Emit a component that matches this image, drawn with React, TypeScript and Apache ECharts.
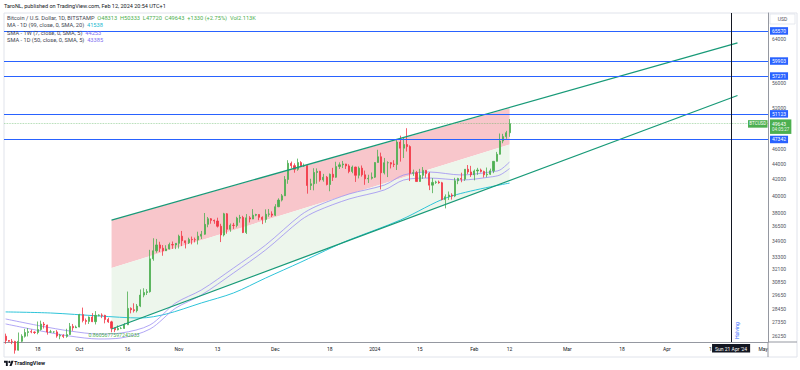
import React, { useEffect, useRef } from "react";
import * as echarts from "echarts";

const FONT = "Roboto, 'Liberation Sans', Arial, sans-serif";

// Category axis: daily from this date
const FIRST_DAY = "2023-09-08";
const TOTAL_DAYS = 238;

// Daily candles [open, high, low, close], starting 2023-09-08, one per day
const ohlc: number[][] = [
  [26240, 26440, 25650, 25900], [25900, 25940, 25800, 25840], [25840, 26020, 25620, 25830], [25830, 25880, 24900, 25160],
  [25160, 26530, 25130, 25840], [25840, 26390, 25770, 26230], [26230, 26820, 26130, 26530], [26530, 26890, 26220, 26600],
  [26600, 26770, 26470, 26570], [26570, 26620, 26410, 26530], [26530, 27420, 26390, 26770], [26770, 27490, 26680, 27210],
  [27210, 27380, 26850, 27130], [27130, 27160, 26360, 26570], [26570, 26740, 26520, 26580], [26580, 26630, 26500, 26580],
  [26580, 26720, 26120, 26250], [26250, 26420, 26000, 26300], [26300, 26390, 26090, 26220], [26220, 26830, 26120, 26370],
  [26370, 27300, 26340, 27020], [27020, 27220, 26670, 26910], [26910, 27090, 26890, 26970],
  // Oct
  [26970, 28060, 26950, 27990], [27990, 28590, 27350, 27500], [27500, 27670, 27170, 27430], [27430, 27840, 27220, 27790],
  [27790, 28120, 27370, 27410], [27410, 28290, 27180, 27930], [27930, 28020, 27850, 27960], [27960, 28100, 27700, 27930],
  [27930, 27980, 27270, 27590], [27590, 27730, 27310, 27390], [27390, 27480, 26550, 26870], [26870, 26930, 26560, 26750],
  [26750, 27100, 26700, 26860], [26860, 26970, 26800, 26860], [26860, 27290, 26830, 27150], [27150, 30000, 27130, 28520],
  [28520, 28610, 28100, 28410], [28410, 28960, 28170, 28330], [28330, 28900, 28180, 28720], [28720, 30190, 28630, 29680],
  [29680, 30300, 29490, 29910], [29910, 30220, 29690, 29990], [29990, 34000, 29900, 33090], [33090, 35200, 32900, 33900],
  [33900, 35130, 33700, 34500], [34500, 34830, 33780, 34160], [34160, 34490, 33400, 33900], [33900, 34470, 33880, 34090],
  [34090, 34740, 34040, 34540], [34540, 34860, 34100, 34500], [34500, 34700, 34070, 34670],
  // Nov
  [34670, 35580, 34130, 35420], [35420, 35980, 34380, 34940], [34940, 34940, 34140, 34730], [34730, 35260, 34600, 35080],
  [35080, 35380, 34560, 35050], [35050, 35270, 34760, 35040], [35040, 35900, 34550, 35420], [35420, 35980, 35120, 35630],
  [35630, 37970, 35570, 36700], [36700, 37520, 36380, 37320], [37320, 37400, 36770, 37140], [37140, 37230, 36760, 37070],
  [37070, 37440, 36350, 36490], [36490, 36760, 34800, 35550], [35550, 37990, 35390, 37880], [37880, 37970, 35680, 36160],
  [36160, 36790, 35890, 36600], [36600, 36860, 36200, 36580], [36580, 37540, 36370, 37390], [37390, 37760, 36890, 37470],
  [37470, 37650, 35750, 35810], [35810, 37850, 35650, 37420], [37420, 37620, 36910, 37290], [37290, 38420, 37280, 37720],
  [37720, 37880, 37600, 37800], [37800, 37830, 37160, 37480], [37480, 37590, 36720, 37250], [37250, 38390, 36880, 37830],
  [37830, 38430, 37550, 37860], [37860, 38160, 37510, 37720],
  // Dec
  [37720, 38990, 37630, 38690], [38690, 39680, 38650, 39470], [39470, 40200, 39310, 39980], [39980, 42420, 39980, 41990],
  [41990, 44490, 41450, 44080], [44080, 44310, 43400, 43770], [43770, 44070, 42850, 43290], [43290, 44700, 43100, 44170],
  [44170, 44360, 43600, 43720], [43720, 44040, 43600, 43790], [43790, 43800, 40240, 41240], [41240, 42080, 40680, 41450],
  [41450, 43430, 40640, 42880], [42880, 43410, 41460, 43020], [43020, 43090, 41710, 41940], [41940, 42700, 41710, 42270],
  [42270, 42430, 41250, 41360], [41360, 42750, 40530, 42650], [42650, 43480, 41800, 42270], [42270, 44280, 42200, 43650],
  [43650, 44200, 43330, 43870], [43870, 44390, 43450, 43990], [43990, 44010, 43330, 43730], [43730, 43950, 42780, 43010],
  [43010, 43780, 42780, 43580], [43580, 43620, 41680, 42520], [42520, 43660, 42120, 43440], [43440, 43790, 42350, 42580],
  [42580, 43120, 41320, 42070], [42070, 42590, 41550, 42140], [42140, 42880, 41980, 42280],
  // Jan
  [42280, 44210, 42180, 44180], [44180, 45900, 44160, 44950], [44950, 45510, 40750, 42840], [42840, 44790, 42630, 44150],
  [44150, 44340, 42290, 44160], [44160, 44230, 43400, 43970], [43970, 44490, 43580, 43930], [43930, 47250, 43200, 46970],
  [46970, 47890, 44300, 46120], [46120, 47680, 44780, 46630], [46630, 48970, 45660, 46340], [46340, 46520, 41790, 42780],
  [42780, 43250, 42450, 42850], [42850, 43080, 41730, 41730], [41730, 43350, 41720, 42510], [42510, 43580, 42070, 43150],
  [43150, 43200, 42200, 42740], [42740, 42930, 40670, 41280], [41280, 42170, 40300, 41620], [41620, 41830, 41430, 41670],
  [41670, 41850, 41450, 41580], [41580, 41690, 39440, 39530], [39530, 40150, 38500, 39870], [39870, 40500, 39490, 40080],
  [40080, 40290, 39530, 39950], [39950, 42200, 39820, 41820], [41820, 42200, 41400, 42120], [42120, 42850, 41640, 42030],
  [42030, 43300, 41810, 43300], [43300, 43850, 42690, 42950], [42950, 43740, 42310, 42580],
  // Feb
  [42580, 43270, 41880, 43080], [43080, 43480, 42580, 43200], [43200, 43380, 42880, 43010], [43010, 43110, 42240, 42580],
  [42580, 43520, 42270, 42660], [42660, 43380, 42570, 43090], [43090, 44350, 42790, 44340], [44340, 45610, 44320, 45290],
  [45290, 48200, 45250, 47130], [47130, 48150, 46810, 47750], [47750, 48580, 47440, 48313], [48313, 50333, 47720, 49643],
];

// Moving averages
const ma99: [string, number][] = [
  ["2023-09-08", 28220], ["2023-09-22", 28130], ["2023-10-07", 27880], ["2023-10-20", 27710],
  ["2023-10-28", 28040], ["2023-11-08", 28990], ["2023-11-18", 29870], ["2023-11-28", 31240],
  ["2023-12-09", 32770], ["2023-12-19", 34290], ["2023-12-24", 35020], ["2024-01-09", 37180],
  ["2024-01-24", 39840], ["2024-02-12", 41538],
];
const sma1w: [string, number][] = [
  ["2023-09-08", 27630], ["2023-09-19", 27050], ["2023-09-28", 26650], ["2023-10-07", 26410],
  ["2023-10-14", 26490], ["2023-10-23", 27140], ["2023-10-31", 28990], ["2023-11-08", 30140],
  ["2023-11-18", 32190], ["2023-11-28", 34490], ["2023-12-09", 37750], ["2023-12-14", 38780],
  ["2023-12-24", 40200], ["2024-01-04", 41290], ["2024-01-10", 42560], ["2024-01-18", 42940],
  ["2024-01-28", 42560], ["2024-02-06", 42940], ["2024-02-09", 43200], ["2024-02-12", 44253],
];
const sma50: [string, number][] = [
  ["2023-09-08", 27220], ["2023-09-19", 26650], ["2023-09-28", 26250], ["2023-10-07", 26020],
  ["2023-10-14", 26100], ["2023-10-23", 26810], ["2023-10-31", 28550], ["2023-11-08", 29690],
  ["2023-11-18", 31720], ["2023-11-28", 33990], ["2023-12-09", 37180], ["2023-12-14", 38200],
  ["2023-12-24", 39600], ["2024-01-04", 40690], ["2024-01-10", 41920], ["2024-01-18", 42170],
  ["2024-01-28", 41920], ["2024-02-06", 42300], ["2024-02-09", 42560], ["2024-02-12", 43385],
];

// Parallel channel drawing
const channelUpper: [string, number][] = [["2023-10-11", 37180], ["2024-04-23", 63240]];
const channelLower: [string, number][] = [["2023-10-11", 26810], ["2024-04-23", 54020]];
const redZone: [string, number][] = [["2023-10-11", 37180], ["2024-02-12", 52000], ["2024-02-12", 46620], ["2023-10-11", 32190]];
const greenZone: [string, number][] = [["2023-10-11", 32190], ["2024-02-12", 46620], ["2024-02-12", 41860], ["2023-10-11", 26810]];
const channelLevelText = "0.8605677597242033";

// Horizontal levels
const levels = [65570, 59903, 57271, 51123, 47342];
const lastPrice = 49643;
const countdown = "04:05:27";

// Right axis tick labels
const priceTicks = [64000, 56000, 52000, 46000, 44000, 42000, 40000, 38000, 36500, 34900, 33300, 32100, 30850, 29650, 28450, 27350, 26250];

// Bottom axis labels
const dateTicks: Record<string, string> = {
  "2023-09-18": "18", "2023-10-01": "Oct", "2023-10-16": "16", "2023-11-01": "Nov", "2023-11-13": "13",
  "2023-12-01": "Dec", "2023-12-18": "18", "2024-01-01": "2024", "2024-01-15": "15", "2024-02-01": "Feb",
  "2024-02-12": "12", "2024-03-01": "Mar", "2024-03-18": "18", "2024-04-01": "Apr", "2024-04-15": "15",
  "2024-05-01": "May",
};
const halvingDate = "2024-04-21";
const halvingLabel = "Sun 21 Apr '24";

const TV_LOGO = "M14 22H7V11H0V4h14v18zM28 22h-8l7.5-18h8L28 22zM20 4a4 4 0 1 1 0 8a4 4 0 0 1 0-8z";

function buildCategories(): string[] {
  const out: string[] = [];
  const [y, m, d] = FIRST_DAY.split("-").map(Number);
  const t0 = Date.UTC(y, m - 1, d);
  for (let i = 0; i < TOTAL_DAYS; i++) {
    out.push(new Date(t0 + i * 86400000).toISOString().slice(0, 10));
  }
  return out;
}

const UP = "#4caf50";
const DOWN = "#f23645";
const BLUE = "#2962ff";
const CHANNEL = "#189a78";
const CYAN = "#2ec4d9";
const VIOLET = "#9d8ff3";
const HIDDEN_LINE = { color: "rgba(0,0,0,0)", width: 0 };

export default function App() {
  const ref = useRef<HTMLDivElement>(null);

  useEffect(() => {
    if (!ref.current) return;
    const chart = echarts.init(ref.current, undefined, { renderer: "svg" });
    const cats = buildCategories();
    const idx = (d: string) => cats.indexOf(d);
    const candleData = ohlc.map((r) => [r[0], r[3], r[2], r[1]]);

    const polygonSeries = (pts: [string, number][], fill: string) => ({
      type: "custom",
      silent: true,
      clip: true,
      z: 1,
      data: [[idx(pts[0][0]), pts[0][1]]],
      renderItem: (_p: any, api: any) => ({
        type: "polygon",
        shape: { points: pts.map((p) => api.coord([idx(p[0]), p[1]])) },
        style: { fill },
      }),
    });

    const tickLines = priceTicks.map((v) => ({
      yAxis: v,
      lineStyle: HIDDEN_LINE,
      label: { show: true, position: "end", distance: 4, formatter: String(v), color: "#50535e", fontSize: 5, fontFamily: FONT },
    }));
    const levelLines = levels.map((v) => ({
      yAxis: v,
      lineStyle: { color: BLUE, width: 1.2, type: "solid", opacity: 1 },
      label: {
        show: true, position: "end", distance: 2, formatter: String(v), color: "#fff",
        backgroundColor: BLUE, padding: [1.5, 2, 1, 2], fontSize: 5, fontFamily: FONT,
      },
    }));
    const priceLine = {
      yAxis: lastPrice,
      lineStyle: { color: UP, width: 0.8, type: "dotted", opacity: 0.6 },
      label: {
        show: true, position: "end", distance: 2, offset: [0, 3],
        formatter: `{a|${lastPrice}}\n{b|${countdown}}`,
        backgroundColor: UP, padding: [1.5, 2, 1, 2], opacity: 1,
        rich: {
          a: { color: "#fff", fontSize: 5, lineHeight: 6, fontFamily: FONT },
          b: { color: "#e6f4e6", fontSize: 4.5, lineHeight: 6, fontFamily: FONT },
        },
      },
    };
    const halvingLine = {
      xAxis: halvingDate,
      lineStyle: { color: "#131722", width: 1, type: "solid", opacity: 1 },
      label: {
        show: true, position: "start", distance: 2, formatter: halvingLabel, color: "#fff",
        backgroundColor: "#131722", padding: [2, 3, 1.5, 3], fontSize: 5, fontFamily: FONT,
      },
    };
    const halvingText = {
      xAxis: halvingDate,
      lineStyle: HIDDEN_LINE,
      label: { show: true, position: "insideStartBottom", distance: 3, formatter: "Halving", color: BLUE, fontSize: 5, fontFamily: FONT },
    };

    const option: any = {
      animation: false,
      backgroundColor: "#ffffff",
      grid: { left: 4, right: 32, top: 13, bottom: 28, containLabel: false },
      xAxis: {
        type: "category",
        data: cats,
        boundaryGap: true,
        axisLine: { show: true, lineStyle: { color: "#9598a1", width: 1 } },
        axisTick: { show: false },
        splitLine: { show: false },
        axisLabel: {
          interval: (_i: number, v: string) => v in dateTicks,
          formatter: (v: string) => dateTicks[v] ?? "",
          color: "#131722", fontSize: 5, fontFamily: FONT, margin: 4,
        },
      },
      yAxis: {
        type: "log",
        position: "right",
        min: 25785,
        max: 69190,
        axisLine: { show: true, lineStyle: { color: "#9598a1", width: 1 } },
        axisTick: { show: false },
        axisLabel: { show: false },
        splitLine: { show: false },
      },
      series: [
        polygonSeries(redZone, "#f8c6cb"),
        polygonSeries(greenZone, "#edf6ec"),
        {
          type: "line", data: ma99, symbol: "none", smooth: 0.3, z: 2, silent: true,
          lineStyle: { color: CYAN, width: 1 },
        },
        {
          type: "line", data: sma1w, symbol: "none", smooth: 0.3, z: 2, silent: true,
          lineStyle: { color: VIOLET, width: 0.8 },
        },
        {
          type: "line", data: sma50, symbol: "none", smooth: 0.3, z: 2, silent: true,
          lineStyle: { color: VIOLET, width: 0.8 },
        },
        {
          type: "line", data: channelUpper, symbol: "none", z: 4, silent: true,
          lineStyle: { color: CHANNEL, width: 1.3 },
        },
        {
          type: "line", data: channelLower, symbol: "none", z: 4, silent: true,
          lineStyle: { color: CHANNEL, width: 1.3 },
        },
        {
          type: "candlestick",
          data: candleData,
          barWidth: 1.6,
          z: 3,
          itemStyle: { color: UP, color0: DOWN, borderColor: UP, borderColor0: DOWN, borderWidth: 0.8 },
          markLine: {
            silent: true,
            symbol: ["none", "none"],
            z: 6,
            data: [...tickLines, priceLine, ...levelLines, halvingLine, halvingText],
          },
        },
      ],
    };
    chart.setOption(option);

    const yPrice = chart.convertToPixel({ yAxisIndex: 0 }, lastPrice) as number;
    const chStart = chart.convertToPixel({ gridIndex: 0 }, [idx(channelLower[0][0]), channelLower[0][1]]) as number[];

    echarts.graphic.registerShape("tvlogo", echarts.graphic.extendPath(TV_LOGO, {}) as any);

    const textStyle = (t: string, x: number, y: number, extra: any = {}) => ({
      type: "text",
      x, y, z: 10,
      style: { text: t, fontSize: 5, fontFamily: FONT, fill: "#131722", verticalAlign: "middle", ...extra },
    });

    const LF = 5.7;
    const legendLine = (name: string, val: string, color: string, y: number) => ({
      type: "text", x: 7, y, z: 10,
      style: {
        text: `{g|${name}}  {v|${val}}`, verticalAlign: "middle", fontFamily: FONT, fontSize: LF,
        rich: { g: { fill: "#434651", fontSize: LF, fontFamily: FONT }, v: { fill: color, fontSize: LF, fontFamily: FONT } },
      },
    });

    chart.setOption({
      graphic: [
        {
          type: "rect", z: 0, silent: true,
          shape: { x: 4, y: 13, width: 793, height: 344 },
          style: { fill: "none", stroke: "#e0e3eb", lineWidth: 1 },
        },
        {
          type: "line", z: 8, silent: true,
          shape: { x1: 768, y1: 342, x2: 768, y2: 357 },
          style: { stroke: "#9598a1", lineWidth: 1 },
        },
        {
          type: "line", z: 8, silent: true,
          shape: { x1: 768, y1: 342, x2: 797, y2: 342 },
          style: { stroke: "#9598a1", lineWidth: 1 },
        },
        {
          type: "rect", z: 9, silent: true,
          shape: { x: 770, y: 14, width: 25, height: 10 },
          style: { fill: "#fff", stroke: "#e0e3eb", lineWidth: 0.8 },
        },
        textStyle("USD", 782.5, 19, { align: "center", fill: "#50535e" }),
        textStyle("TaroNL, published on TradingView.com, Feb 12, 2024 20:54 UTC+1", 4, 5.5, { fontSize: 5.5 }),
        {
          type: "text", x: 7, y: 17.5, z: 10,
          style: {
            text: "{g|Bitcoin / U.S. Dollar, 1D, BITSTAMP}  {v|O48313  H50333  L47720  C49643  +1330 (+2.75%)  Vol2.113K}",
            verticalAlign: "middle", fontFamily: FONT, fontSize: LF,
            rich: {
              g: { fill: "#434651", fontSize: LF, fontFamily: FONT },
              v: { fill: UP, fontSize: LF, fontFamily: FONT },
            },
          },
        },
        legendLine("MA - 1D (99, close, 0, SMA, 20)", "41538", "#22b8cf", 24.5),
        legendLine("SMA - 1W (7, close, 0, SMA, 5)", "44253", "#7f6ff0", 32.5),
        legendLine("SMA - 1D (50, close, 0, SMA, 5)", "43385", "#7f6ff0", 40),
        textStyle(channelLevelText, chStart[0] - 23, chStart[1] + 6, { fill: UP, fontSize: 5.2 }),
        {
          type: "rect", z: 10, silent: true,
          shape: { x: 748, y: yPrice - 3.5, width: 19.5, height: 7.5 },
          style: { fill: UP },
        },
        textStyle("BTCUSD", 757.75, yPrice + 0.3, { align: "center", fill: "#fff", fontSize: 4.5 }),
        {
          type: "tvlogo", x: 4, y: 359.5, scaleX: 0.27, scaleY: 0.3, z: 10, silent: true,
          style: { fill: "#131722" },
        },
        textStyle("TradingView", 14, 362.5, { fontSize: 5.5, fill: "#131722", fontWeight: "bold" }),
      ],
    });

    return () => chart.dispose();
  }, []);

  return (
    <div
      ref={ref}
      style={{ position: "absolute", left: 0, top: 0, width: 800, height: 370, background: "#fff" }}
    />
  );
}
